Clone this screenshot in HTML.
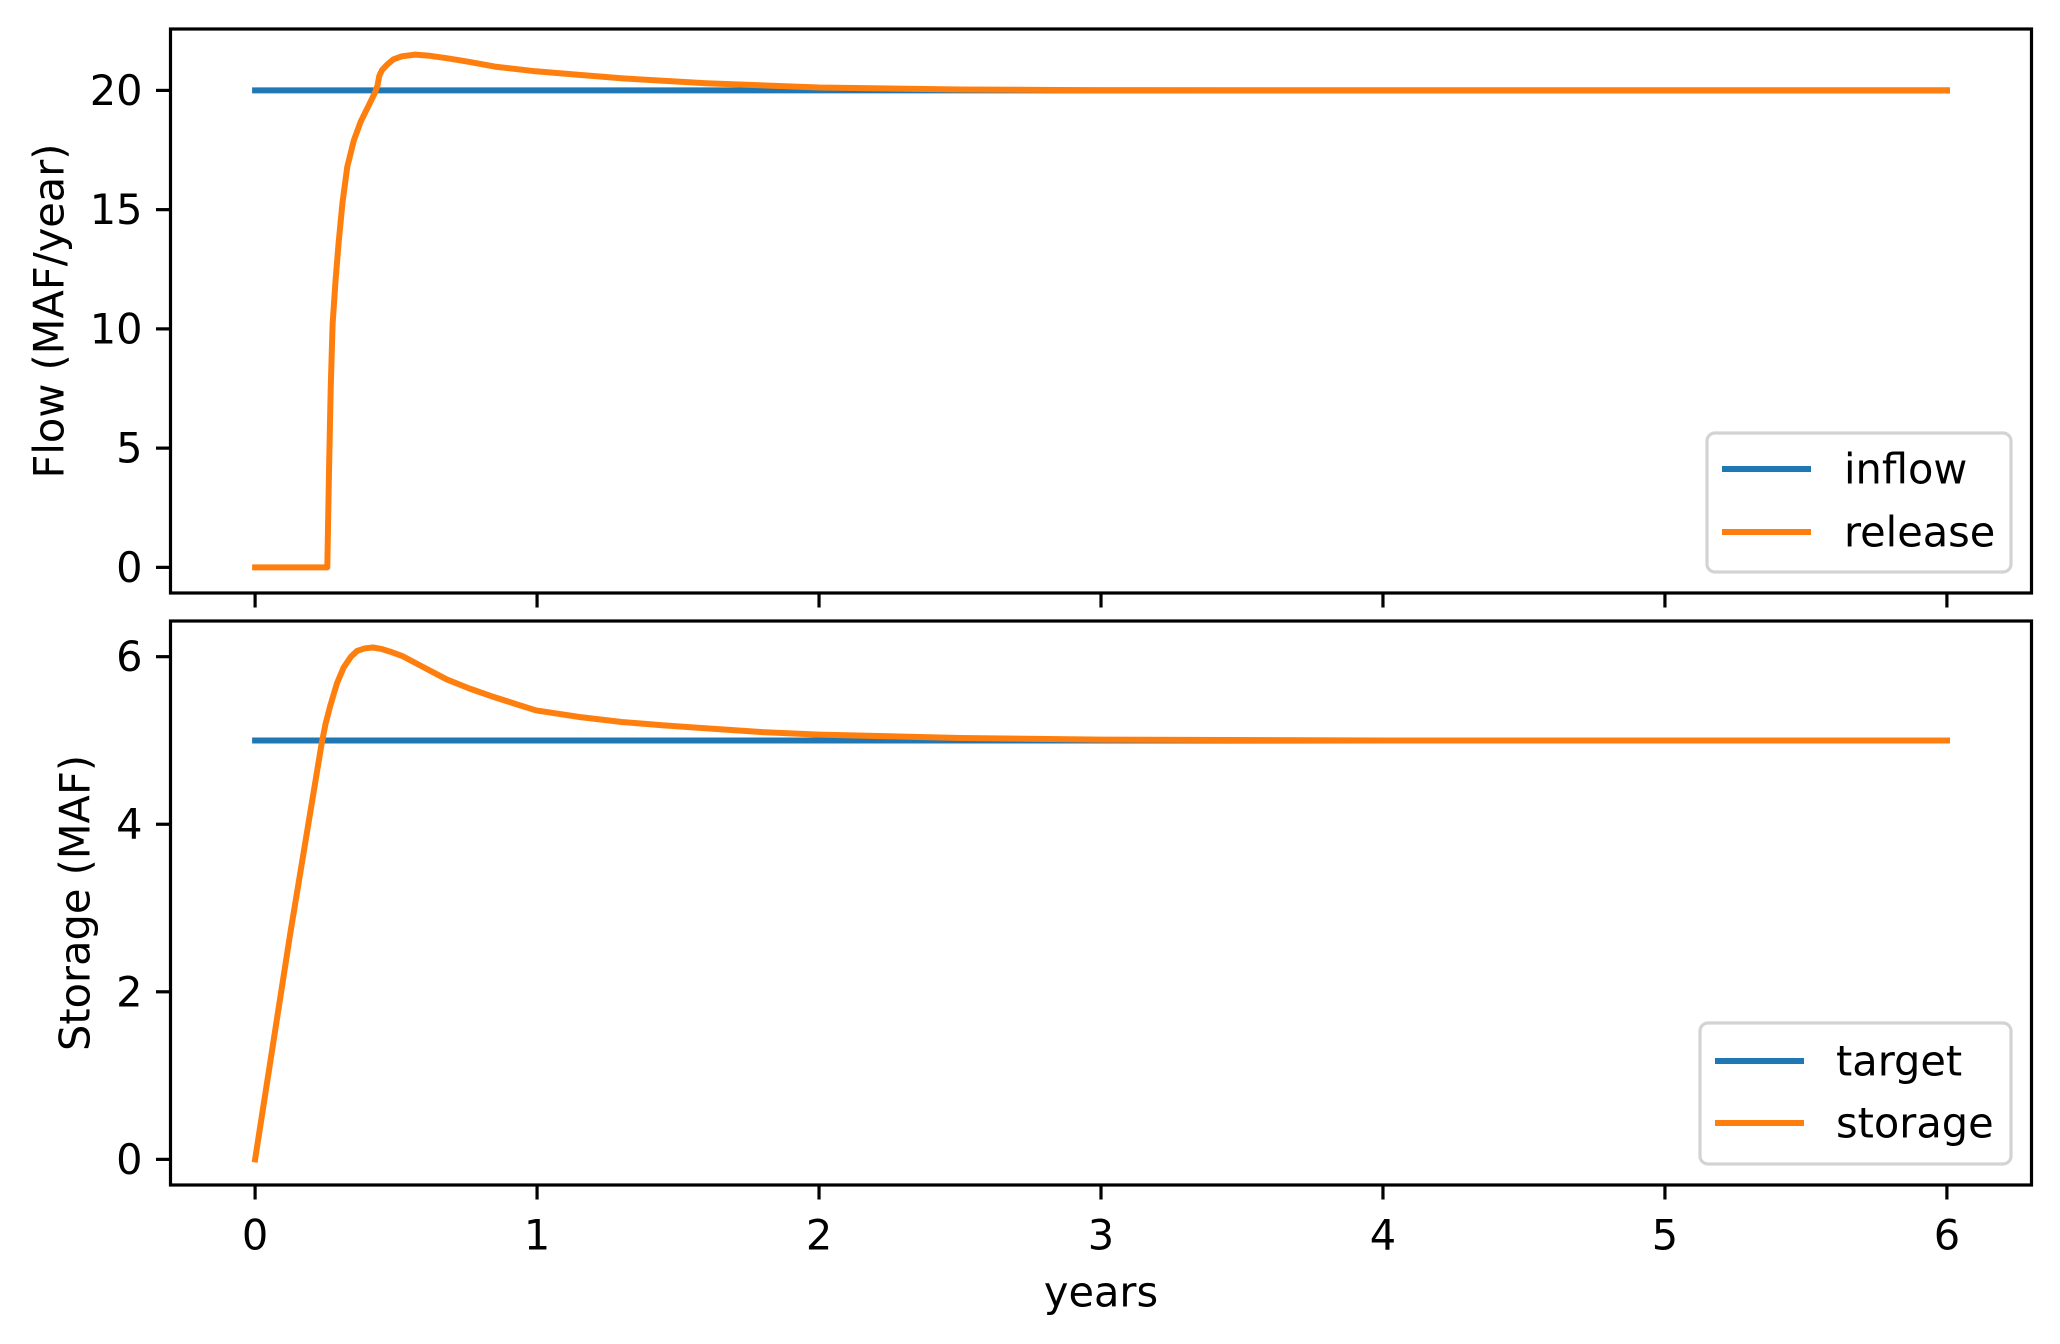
<!DOCTYPE html>
<html><head><meta charset="utf-8"><style>
html,body{margin:0;padding:0;background:#fff;}
svg{display:block;font-family:"DejaVu Sans","Liberation Sans",sans-serif;}
</style></head><body>
<svg id="fig" width="2060" height="1344" viewBox="0 0 2060 1344"></svg>
<script>
const xTicks=[0,1,2,3,4,5,6];
const flowTicks=[0,5,10,15,20];
const storTicks=[0,2,4,6];
const inflowT=[0,6];
const inflowV=[20,20];
const targetT=[0,6];
const targetV=[5,5];
const releaseT=[0,0.25,0.256,0.262,0.268,0.275,0.285,0.296,0.31,0.327,0.35,0.375,0.4,0.425,0.434,0.44,0.45,0.47,0.49,0.52,0.568,0.62,0.68,0.758,0.85,0.995,1.15,1.31,1.6,2,2.5,3,4,6];
const releaseV=[0,0,0,4.0,7.5,10.2,12.0,13.6,15.3,16.8,17.9,18.7,19.3,19.9,20.2,20.6,20.85,21.1,21.3,21.43,21.5,21.45,21.35,21.2,21.0,20.8,20.65,20.5,20.3,20.12,20.04,20.01,20,20];
const storageT=[0,0.125,0.236,0.25,0.267,0.29,0.314,0.34,0.362,0.39,0.418,0.45,0.48,0.521,0.6,0.679,0.76,0.837,0.92,0.995,1.15,1.3,1.45,1.577,1.8,2,2.5,3,4,6];
const storageV=[0,2.7,4.96,5.2,5.42,5.68,5.87,6.0,6.07,6.1,6.11,6.09,6.06,6.01,5.87,5.73,5.62,5.53,5.44,5.36,5.28,5.22,5.18,5.15,5.1,5.07,5.03,5.01,5,5];

const NS="http://www.w3.org/2000/svg";
const svg=document.getElementById('fig');
function mk(tag,attrs,parent){const e=document.createElementNS(NS,tag);for(const k in attrs)e.setAttribute(k,attrs[k]);(parent||svg).appendChild(e);return e;}
const X0=170.5,X1=2031.5,xmin=-0.3,xmax=6.3;
const FS=41.5;
function sx(t){return X0+(t-xmin)/(xmax-xmin)*(X1-X0);}

function panel(name,top,bot,ymin,ymax,ticks,series,ylabel,ylabelX,legend,showXLabels){
  const g=mk('g',{});
  
  
  const sy=v=>bot-(v-ymin)/(ymax-ymin)*(bot-top);
  series.forEach(s=>{
    const pts=s.t.map((t,i)=>sx(t).toFixed(1)+','+sy(s.v[i]).toFixed(1)).join(' ');
    const p=mk('polyline',{points:pts,fill:'none',stroke:s.c,'stroke-width':6,'stroke-linejoin':'round','stroke-linecap':'square'},g);
    
    
  });
  const fr=mk('rect',{x:X0,y:top,width:X1-X0,height:bot-top,fill:'none',stroke:'#000','stroke-width':3.2},g);
  
  
  ticks.forEach(v=>{
    const y=sy(v);
    mk('line',{x1:X0-14.5,x2:X0,y1:y,y2:y,stroke:'#000','stroke-width':3.2},g);
    const tx=mk('text',{x:X0-28,y:y,'text-anchor':'end','dominant-baseline':'central','font-size':FS},g);
    tx.textContent=v;
    
    
  });
  xTicks.forEach(v=>{
    const x=sx(v);
    mk('line',{x1:x,x2:x,y1:bot,y2:bot+14.5,stroke:'#000','stroke-width':3.2},g);
    if(showXLabels){
      const tx=mk('text',{x:x,y:bot+50,'text-anchor':'middle','dominant-baseline':'central','font-size':FS},g);
      tx.textContent=v;
      
      
    }
  });
  const cy=(top+bot)/2;
  const yl=mk('text',{x:ylabelX,y:cy,'text-anchor':'middle','dominant-baseline':'central','font-size':FS,transform:'rotate(-90 '+ylabelX+' '+cy+')'},g);
  yl.textContent=ylabel;
  
  
  const lg=mk('g',{},g);
  
  
  mk('rect',{x:legend.x,y:legend.y,width:legend.w,height:legend.h,rx:8,fill:'#fff','fill-opacity':0.8,stroke:'#d3d3d3','stroke-width':3.2},lg);
  legend.items.forEach((it,i)=>{
    const y=legend.y+legend.first+i*legend.gap;
    mk('line',{x1:legend.x+15,x2:legend.x+104,y1:y,y2:y,stroke:it.c,'stroke-width':6},lg);
    const t=mk('text',{x:legend.x+legend.tx,y:y,'dominant-baseline':'central','font-size':FS},lg);
    t.textContent=it.n;
    
    
  });
}
panel('flow-panel',29,593,-1.075,22.575,flowTicks,
  [{n:'inflow',t:inflowT,v:inflowV,c:'#1f77b4'},{n:'release',t:releaseT,v:releaseV,c:'#ff7f0e'}],
  'Flow (MAF/year)',49,{x:1707,y:433,w:304,h:139,first:36,gap:63,tx:137,items:[{n:'inflow',c:'#1f77b4'},{n:'release',c:'#ff7f0e'}]},false);
panel('storage-panel',621,1185,-0.306,6.426,storTicks,
  [{n:'target',t:targetT,v:targetV,c:'#1f77b4'},{n:'storage',t:storageT,v:storageV,c:'#ff7f0e'}],
  'Storage (MAF)',75,{x:1700,y:1023,w:311,h:141,first:38,gap:62,tx:136,items:[{n:'target',c:'#1f77b4'},{n:'storage',c:'#ff7f0e'}]},true);
const xl=mk('text',{x:sx(3),y:1292,'text-anchor':'middle','dominant-baseline':'central','font-size':FS});
xl.textContent='years';


</script>
</body></html>
